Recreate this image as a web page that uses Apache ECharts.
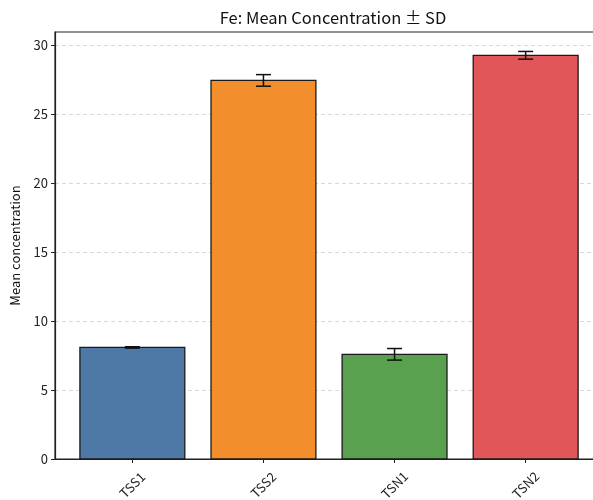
<!DOCTYPE html>
<html>
<head>
<meta charset="utf-8">
<script src="https://cdn.jsdelivr.net/npm/echarts@6/dist/echarts.min.js"></script>
<style>html,body{margin:0;padding:0;background:#fff}#c{width:593px;height:500px}</style>
</head>
<body>
<div id="c"></div>
<script>
var categories = ['TSS1', 'TSS2', 'TSN1', 'TSN2'];
var means = [8.09, 27.45, 7.59, 29.27];
var sds = [0.05, 0.42, 0.42, 0.28];
var colors = ['#4e79a7', '#f28e2b', '#59a14f', '#e15759'];
var yTicks = [0, 5, 10, 15, 20, 25, 30];

var FONT = 'Noto Sans CJK SC';
var barData = categories.map(function (c, i) { return [i, means[i]]; });
var errData = categories.map(function (c, i) { return [i, means[i] - sds[i], means[i] + sds[i]]; });

var chart = echarts.init(document.getElementById('c'), null, {renderer: 'canvas'});
chart.setOption({
  animation: false,
  backgroundColor: '#fff',
  title: {
    text: 'Fe: Mean Concentration \u00b1 SD',
    left: 328, top: 4, textAlign: 'center',
    textStyle: {fontFamily: FONT, fontSize: 16.5, fontWeight: 'normal', color: '#111'}
  },
  grid: {left: 55, top: 32, width: 548, bottom: 41, outerBoundsMode: 'none', containLabel: false,
    show: true, borderColor: '#222', borderWidth: 1.2, backgroundColor: 'transparent'},
  xAxis: {
    type: 'value', min: -0.59, max: 3.59,
    axisLine: {show: true, onZero: false, lineStyle: {color: '#222', width: 1.2}},
    axisTick: {show: true, customValues: [0, 1, 2, 3], length: 4, lineStyle: {color: '#222'}},
    axisLabel: {customValues: [0, 1, 2, 3], rotate: 45, align: 'center', verticalAlign: 'middle',
      fontFamily: FONT, fontSize: 13, color: '#222', margin: 26,
      formatter: function (v) { return categories[Math.round(v)]; }},
    splitLine: {show: false}
  },
  yAxis: {
    type: 'value', min: 0, max: 30.96,
    name: 'Mean concentration', nameLocation: 'middle', nameGap: 33, nameRotate: 90,
    nameTextStyle: {fontFamily: FONT, fontSize: 13, color: '#111'},
    axisLine: {show: true, onZero: false, lineStyle: {color: '#222', width: 1.2}},
    axisTick: {show: true, customValues: yTicks, length: 4, lineStyle: {color: '#222'}},
    axisLabel: {customValues: yTicks, fontFamily: FONT, fontSize: 13, color: '#222', margin: 7},
    splitLine: {show: true, lineStyle: {color: '#d9d9d9', type: [4, 3], width: 1}}
  },
  series: [
    {
      type: 'custom',
      data: barData,
      renderItem: function (params, api) {
        var i = api.value(0), v = api.value(1);
        var p0 = api.coord([i - 0.4, v]);
        var p1 = api.coord([i + 0.4, 0]);
        return {
          type: 'rect',
          shape: {x: p0[0], y: p0[1], width: p1[0] - p0[0], height: p1[1] - p0[1]},
          style: {fill: colors[params.dataIndex], stroke: '#1a1a1a', lineWidth: 1.3}
        };
      },
      z: 2
    },
    {
      type: 'custom',
      data: errData,
      renderItem: function (params, api) {
        var i = api.value(0);
        var lo = api.coord([i, api.value(1)]);
        var hi = api.coord([i, api.value(2)]);
        var cap = 7.5;
        var st = {stroke: '#111', lineWidth: 1.5};
        return {
          type: 'group',
          children: [
            {type: 'line', shape: {x1: lo[0], y1: lo[1], x2: hi[0], y2: hi[1]}, style: st},
            {type: 'line', shape: {x1: lo[0] - cap, y1: lo[1], x2: lo[0] + cap, y2: lo[1]}, style: st},
            {type: 'line', shape: {x1: hi[0] - cap, y1: hi[1], x2: hi[0] + cap, y2: hi[1]}, style: st}
          ]
        };
      },
      z: 3
    }
  ]
});
</script>
</body>
</html>
